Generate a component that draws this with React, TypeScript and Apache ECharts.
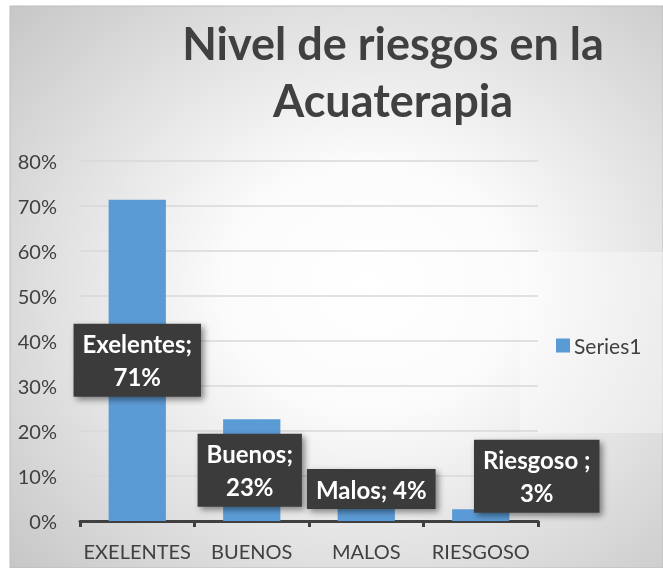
import React, { useEffect, useRef } from "react";
import * as echarts from "echarts";

const categories = ["EXELENTES", "BUENOS", "MALOS", "RIESGOSO"];
const values = [0.714, 0.226, 0.04, 0.026];
const labelTexts = ["Exelentes;\n71%", "Buenos;\n23%", "Malos; 4%", "Riesgoso ;\n3%"];
const labelOffsets = [[0, 0], [-2, 0], [5, -23], [56, -39]];
const yTicks = [0, 0.1, 0.2, 0.3, 0.4, 0.5, 0.6, 0.7, 0.8];

export default function App() {
  const ref = useRef<HTMLDivElement>(null);
  useEffect(() => {
    if (!ref.current) return;
    const chart = echarts.init(ref.current, null, { renderer: "svg" });
    const font = "Lato, 'Open Sans', sans-serif";
    chart.setOption({
      animation: false,
      textStyle: { fontFamily: font },
      graphic: [
        {
          type: "rect",
          z: -10,
          silent: true,
          shape: { x: 10, y: 6, width: 653, height: 562 },
          style: {
            fill: {
              type: "radial",
              x: 0.55,
              y: 0.5,
              r: 0.75,
              colorStops: [
                { offset: 0, color: "#ffffff" },
                { offset: 0.3, color: "#fbfbfb" },
                { offset: 1, color: "#c6c6c6" },
              ],
            },
            stroke: "#bdbdbd",
            lineWidth: 1,
          },
        },
        {
          type: "rect",
          z: -9,
          silent: true,
          shape: { x: 520, y: 252, width: 143, height: 181 },
          style: { fill: "rgba(255,255,255,0.35)" },
        },
      ],
      title: {
        text: "Nivel de riesgos en la\nAcuaterapia",
        left: 388,
        top: 9,
        textAlign: "center",
        textStyle: {
          fontFamily: font,
          fontWeight: "bold",
          fontSize: 45,
          lineHeight: 57,
          color: "#404040",
        },
      },
      legend: {
        data: ["Series1"],
        left: 551,
        top: 330,
        orient: "vertical",
        itemWidth: 14,
        itemHeight: 14,
        itemGap: 5,
        icon: "rect",
        textStyle: { fontFamily: font, fontSize: 21, color: "#404040", padding: [0, 0, 0, -1] },
      },
      grid: { left: 80, right: 125, top: 161, bottom: 47 },
      xAxis: {
        type: "category",
        data: categories,
        axisLine: { lineStyle: { color: "#404040", width: 3 } },
        axisTick: { show: true, length: 6, lineStyle: { color: "#404040", width: 3 } },
        axisLabel: { color: "#404040", fontSize: 20, margin: 20, fontFamily: font, interval: 0 },
      },
      yAxis: {
        type: "value",
        min: yTicks[0],
        max: yTicks[yTicks.length - 1],
        interval: 0.1,
        axisLine: { show: false },
        axisTick: { show: false },
        splitLine: { lineStyle: { color: "#d9d9d9", width: 1.5 } },
        axisLabel: {
          color: "#404040",
          fontSize: 20,
          margin: 23,
          fontFamily: font,
          formatter: (v: number) => Math.round(v * 100) + "%",
        },
      },
      series: [
        {
          name: "Series1",
          type: "bar",
          barWidth: "50%",
          itemStyle: { color: "#5B9BD5" },
          data: values.map((v, i) => ({
            value: v,
            label: {
              show: true,
              position: "inside",
              offset: labelOffsets[i],
              formatter: labelTexts[i],
              color: "#ffffff",
              fontFamily: font,
              fontWeight: "bold",
              fontSize: 24,
              lineHeight: 33,
              align: "center",
              backgroundColor: "#3b3b3b",
              padding: [4, 9, 3, 9],
              shadowColor: "rgba(0,0,0,0.45)",
              shadowBlur: 6,
              shadowOffsetX: 3,
              shadowOffsetY: 3,
            },
          })),
        },
      ],
    });
    return () => chart.dispose();
  }, []);
  return (
    <div
      ref={ref}
      style={{ position: "fixed", left: 0, top: 0, width: 663, height: 568 }}
    />
  );
}
